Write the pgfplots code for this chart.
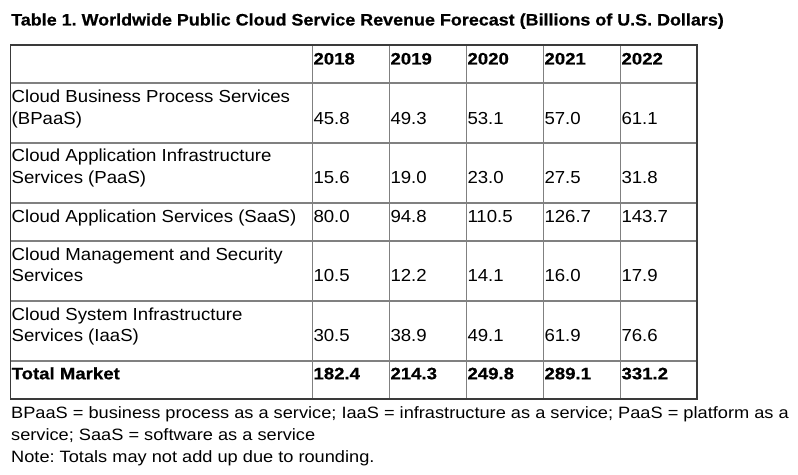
\documentclass[border=0pt]{standalone}
\usepackage{fontspec}
\setmainfont{Liberation Sans}
\newfontfamily\bodyfont[FakeStretch=1.07]{Liberation Sans}
\newfontfamily\boldfont[FakeStretch=1.08,FakeBold=0.6]{Liberation Sans Bold}
\newfontfamily\numboldfont[FakeStretch=1.12,FakeBold=0.6]{Liberation Sans Bold}
\newfontfamily\footfont[FakeStretch=1.11]{Liberation Sans}
\usepackage{pgfplots}
\usepackage{pgfplotstable}
\pgfplotsset{compat=1.18}
\definecolor{outer}{HTML}{3A3A3A}
\definecolor{inner}{HTML}{808080}
\tikzset{
  tstyle/.style={anchor=base west, inner sep=0pt, font=\bodyfont\fontsize{17.4bp}{22bp}\selectfont},
  bstyle/.style={anchor=base west, inner sep=0pt, font=\boldfont\fontsize{16.6bp}{20bp}\selectfont},
  nstyle/.style={anchor=base west, inner sep=0pt, font=\numboldfont\fontsize{16.6bp}{20bp}\selectfont},
  fstyle/.style={anchor=base west, inner sep=0pt, font=\footfont\fontsize{16.4bp}{22bp}\selectfont},
}

\pgfplotstableread{
base y2018 y2019 y2020 y2021 y2022
124.0 45.8 49.3 53.1 57.0 61.1
183.3 15.6 19.0 23.0 27.5 31.8
222.0 80.0 94.8 110.5 126.7 143.7
281.7 10.5 12.2 14.1 16.0 17.9
341.7 30.5 38.9 49.1 61.9 76.6
}\tbl
\pgfplotstableread{
base y2018 y2019 y2020 y2021 y2022
379.3 182.4 214.3 249.8 289.1 331.2
}\tot

\begin{document}
\frenchspacing
\begin{tikzpicture}
\begin{axis}[
  width=798bp, height=475bp, scale only axis,
  xmin=0, xmax=798, ymin=0, ymax=475, y dir=reverse,
  hide axis, clip=false,
  point meta=explicit symbolic,
  nodes near coords,
  every node near coord/.style={anchor=base west, inner sep=0pt, text=black},
]
\path[draw=none] (axis cs:0,0) rectangle (axis cs:798,475);
% grid
\foreach \yy in {83,143,203,241,301,361} {
  \edef\tmp{\noexpand\draw[inner, line width=1.1bp] (axis cs:10.7,\yy) -- (axis cs:697,\yy);}\tmp
}
\foreach \xx in {312.3,389.3,466.3,543.3,620.3} {
  \edef\tmp{\noexpand\draw[inner, line width=1.1bp] (axis cs:\xx,45) -- (axis cs:\xx,399);}\tmp
}
\draw[outer, line width=1.3bp] (axis cs:10.7,45) rectangle (axis cs:697,399);

% title
\node[bstyle] at (axis cs:11,25.5) {Table 1. Worldwide Public Cloud Service Revenue Forecast (Billions of U.S. Dollars)};

% header
\node[nstyle] at (axis cs:313.3,64.5) {2018};
\node[nstyle] at (axis cs:390.3,64.5) {2019};
\node[nstyle] at (axis cs:467.3,64.5) {2020};
\node[nstyle] at (axis cs:544.3,64.5) {2021};
\node[nstyle] at (axis cs:621.3,64.5) {2022};

% row labels
\node[tstyle] at (axis cs:11.5,102) {Cloud Business Process Services};
\node[tstyle] at (axis cs:11.5,124) {(BPaaS)};
\node[tstyle] at (axis cs:11.5,161.7) {Cloud Application Infrastructure};
\node[tstyle] at (axis cs:11.5,183.3) {Services (PaaS)};
\node[tstyle] at (axis cs:11.5,222) {Cloud Application Services (SaaS)};
\node[tstyle] at (axis cs:11.5,260) {Cloud Management and Security};
\node[tstyle] at (axis cs:11.5,281.7) {Services};
\node[tstyle] at (axis cs:11.5,320) {Cloud System Infrastructure};
\node[tstyle] at (axis cs:11.5,341.7) {Services (IaaS)};
\node[nstyle] at (axis cs:11.5,379.3) {Total Market};

% values
\addplot[draw=none, mark=none, every node near coord/.append style={font=\bodyfont\fontsize{17.4bp}{22bp}\selectfont}] table[x expr=313.3, y=base, meta=y2018] {\tbl};
\addplot[draw=none, mark=none, every node near coord/.append style={font=\bodyfont\fontsize{17.4bp}{22bp}\selectfont}] table[x expr=390.3, y=base, meta=y2019] {\tbl};
\addplot[draw=none, mark=none, every node near coord/.append style={font=\bodyfont\fontsize{17.4bp}{22bp}\selectfont}] table[x expr=467.3, y=base, meta=y2020] {\tbl};
\addplot[draw=none, mark=none, every node near coord/.append style={font=\bodyfont\fontsize{17.4bp}{22bp}\selectfont}] table[x expr=544.3, y=base, meta=y2021] {\tbl};
\addplot[draw=none, mark=none, every node near coord/.append style={font=\bodyfont\fontsize{17.4bp}{22bp}\selectfont}] table[x expr=621.3, y=base, meta=y2022] {\tbl};
\addplot[draw=none, mark=none, every node near coord/.append style={font=\numboldfont\fontsize{16.6bp}{20bp}\selectfont}] table[x expr=313.3, y=base, meta=y2018] {\tot};
\addplot[draw=none, mark=none, every node near coord/.append style={font=\numboldfont\fontsize{16.6bp}{20bp}\selectfont}] table[x expr=390.3, y=base, meta=y2019] {\tot};
\addplot[draw=none, mark=none, every node near coord/.append style={font=\numboldfont\fontsize{16.6bp}{20bp}\selectfont}] table[x expr=467.3, y=base, meta=y2020] {\tot};
\addplot[draw=none, mark=none, every node near coord/.append style={font=\numboldfont\fontsize{16.6bp}{20bp}\selectfont}] table[x expr=544.3, y=base, meta=y2021] {\tot};
\addplot[draw=none, mark=none, every node near coord/.append style={font=\numboldfont\fontsize{16.6bp}{20bp}\selectfont}] table[x expr=621.3, y=base, meta=y2022] {\tot};

% footer
\node[fstyle] at (axis cs:11,418) {BPaaS = business process as a service; IaaS = infrastructure as a service; PaaS = platform as a};
\node[fstyle] at (axis cs:11,440) {service; SaaS = software as a service};
\node[fstyle] at (axis cs:11,462) {Note: Totals may not add up due to rounding.};
\end{axis}
\end{tikzpicture}
\end{document}
